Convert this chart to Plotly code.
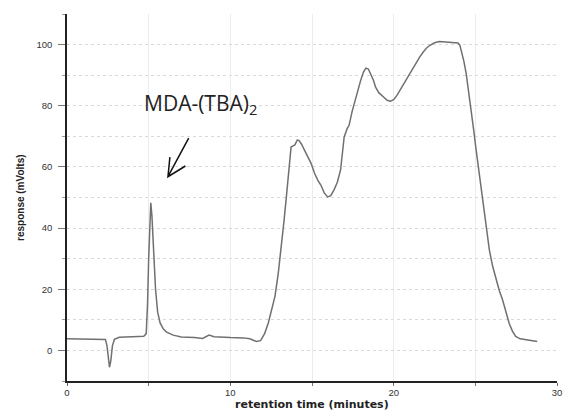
import plotly.graph_objects as go

# Chromatogram trace: retention time (min) vs detector response (mV)
retention_time = [
    0.0, 1.0, 2.0, 2.35, 2.45, 2.52, 2.6, 2.68, 2.78, 2.9, 3.2, 4.0, 4.7,
    4.85, 4.93, 5.0, 5.07, 5.13, 5.2, 5.3, 5.42, 5.55, 5.7, 5.9, 6.1, 6.5,
    7.0, 7.8, 8.3, 8.7, 9.0, 10.0, 10.8, 11.2, 11.6, 11.85, 12.1, 12.32,
    12.55, 12.73, 12.93, 13.13, 13.3, 13.43, 13.55, 13.64, 13.72, 13.84,
    13.95, 14.1, 14.2, 14.35, 14.55, 14.75, 14.95, 15.15, 15.35, 15.55,
    15.75, 15.96, 16.15, 16.35, 16.55, 16.75, 16.85, 16.97, 17.15, 17.27,
    17.45, 17.6, 17.8, 17.98, 18.15, 18.3, 18.45, 18.6, 18.75, 18.9, 19.1,
    19.4, 19.6, 19.8, 20.0, 20.2, 20.4, 20.6, 20.8, 21.0, 21.2, 21.4, 21.6,
    21.8, 22.0, 22.2, 22.5, 22.8, 23.1, 23.4, 23.7, 23.94, 24.05, 24.14,
    24.3, 24.44, 24.6, 24.75, 24.9, 25.05, 25.25, 25.45, 25.65, 25.86,
    26.06, 26.26, 26.47, 26.67, 26.87, 27.07, 27.27, 27.47, 27.75, 28.08,
    28.45, 28.79,
]
response_mv = [
    3.8, 3.8, 3.7, 3.6, 1.5, -3.0, -5.5, -3.5, 1.5, 3.6, 4.3, 4.5, 4.6,
    5.5, 15.0, 30.0, 42.0, 48.3, 44.0, 32.0, 20.0, 12.5, 9.0, 7.0, 6.0, 5.0,
    4.4, 4.2, 3.9, 5.0, 4.5, 4.2, 4.1, 3.8, 2.9, 3.2, 5.5, 8.9,
    13.5, 17.6, 25.0, 33.9, 43.0, 50.2, 57.0, 62.5, 66.5, 66.9,
    67.2, 68.8, 68.7, 67.5, 65.5, 63.5, 61.1, 58.0, 55.7, 54.0,
    51.5, 50.2, 50.6, 52.5, 55.0, 59.0, 64.5, 69.8, 72.5, 73.6,
    78.0, 81.0, 85.0, 88.3, 91.0, 92.3, 92.0, 90.5, 88.5, 86.0, 84.2,
    82.8, 81.8, 81.5, 82.0, 83.4, 85.2, 87.2, 89.2, 91.0, 92.8, 94.3, 96.0,
    97.5, 98.8, 99.7, 100.6, 101.0, 100.9, 100.6, 100.6, 100.5, 99.8, 98.0,
    94.5, 90.5, 84.5, 78.5, 72.0, 65.5, 57.0, 49.1, 40.5, 32.8,
    27.5, 23.1, 19.5, 16.5, 12.5, 8.9, 6.3, 4.6, 3.8, 3.5,
    3.2, 2.9,
]

x_major_ticks = [0, 10, 20, 30]
y_major_ticks = [0, 20, 40, 60, 80, 100]

peak_label = "MDA-(TBA)<sub>2</sub>"
x_title = "retention time (minutes)"
y_title = "response (mVolts)"

fig = go.Figure()
fig.add_trace(go.Scatter(
    x=retention_time, y=response_mv, mode="lines",
    line=dict(color="#707070", width=1.5),
    hoverinfo="skip", showlegend=False,
))

fig.update_xaxes(
    range=[0, 30], tickvals=x_major_ticks, ticktext=[str(v) for v in x_major_ticks],
    showline=True, linecolor="#222", linewidth=1.5,
    ticks="outside", ticklen=2, tickcolor="#666", tickwidth=1,
    tickfont=dict(family="Liberation Sans", size=9.5, color="#333"),
    showgrid=True, gridcolor="#ececec", gridwidth=1, zeroline=False,
    minor=dict(dtick=5, tick0=0, ticks="outside", ticklen=3, tickcolor="#777",
               showgrid=True, gridcolor="#ececec"),
    fixedrange=True,
)
fig.update_yaxes(
    range=[-10, 110], tickvals=y_major_ticks, ticktext=[str(v) for v in y_major_ticks],
    showline=True, linecolor="#222", linewidth=1.5,
    ticks="outside", ticklen=7, tickcolor="#777", tickwidth=1,
    ticklabelstandoff=4,
    tickfont=dict(family="Liberation Sans", size=9.5, color="#333"),
    showgrid=True, gridcolor="#d9d9d9", griddash="dot", gridwidth=1, zeroline=False,
    minor=dict(dtick=10, tick0=0, ticks="outside", ticklen=3, tickcolor="#999",
               showgrid=True, gridcolor="#d9d9d9", griddash="dot"),
    fixedrange=True,
)

fig.add_annotation(
    x=4.6, y=80.5, xref="x", yref="y", text=peak_label, showarrow=False,
    xanchor="left", yanchor="middle",
    font=dict(family="Open Sans", size=21, color="#222"),
)
# Hand-style open arrow (shaft plus two wings) pointing at the MDA-(TBA)2 peak
fig.add_shape(
    type="path", xref="x", yref="y",
    path="M 7.45,69.4 L 6.18,56.8 M 6.30,63.2 L 6.18,56.8 L 7.25,60.3",
    line=dict(color="#111", width=1.5),
)
fig.add_annotation(
    x=0.5, y=-0.064, xref="paper", yref="paper", text=x_title, showarrow=False,
    xanchor="center", yanchor="middle",
    font=dict(family="DejaVu Sans", size=11, color="#222", weight="bold"),
)
fig.add_annotation(
    x=-0.095, y=0.5, xref="paper", yref="paper", text=y_title, showarrow=False,
    xanchor="center", yanchor="middle", textangle=-90,
    font=dict(family="Liberation Sans", size=10, color="#222", weight="bold"),
)

fig.update_layout(
    width=570, height=410,
    margin=dict(l=67, r=8, t=14, b=29),
    paper_bgcolor="white", plot_bgcolor="white",
)

fig.write_html("out.html", include_plotlyjs=True, full_html=True,
               config={"displayModeBar": False})
